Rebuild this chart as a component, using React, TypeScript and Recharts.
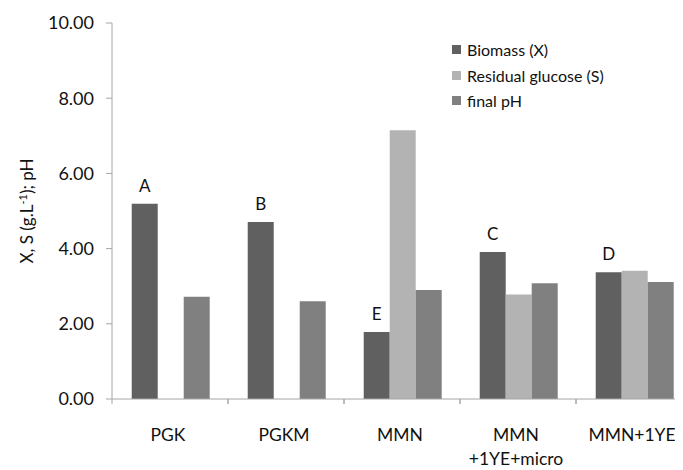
import React from 'react';
import { BarChart, Bar, XAxis, YAxis, LabelList } from 'recharts';

const categories = ['PGK', 'PGKM', 'MMN', 'MMN\n+1YE+micro', 'MMN+1YE'];
const biomass = [5.19, 4.71, 1.78, 3.91, 3.37];
const glucose = [null, null, 7.15, 2.78, 3.41];
const finalPH = [2.72, 2.6, 2.9, 3.08, 3.11];
const letters = ['A', 'B', 'E', 'C', 'D'];
const yTicks = [0, 2, 4, 6, 8, 10];

const series = [
  { key: 'biomass', name: 'Biomass (X)', color: '#606060' },
  { key: 'glucose', name: 'Residual glucose (S)', color: '#b3b3b3' },
  { key: 'ph', name: 'final pH', color: '#808080' },
];

const data = categories.map((c, i) => ({
  name: c,
  biomass: biomass[i],
  glucose: glucose[i],
  ph: finalPH[i],
  letter: letters[i],
}));

const FONT = 'Lato, "Open Sans", sans-serif';
const AXIS = '#a6a6a6';

const W = 698;
const H = 462;
const margin = { top: 15, right: 14, left: 24, bottom: 11 };
const yWidth = 80;
const band = (W - margin.left - margin.right - yWidth) / categories.length;

const XTick = (props: any) => {
  const { x, y, payload } = props;
  const lines = String(payload.value).split('\n');
  const half = band / 2;
  return (
    <g>
      <line x1={x - half} y1={y} x2={x - half} y2={y + 5} stroke={AXIS} />
      <line x1={x + half} y1={y} x2={x + half} y2={y + 5} stroke={AXIS} />
      <text x={x - 2} y={y + 42} textAnchor="middle" fill="#111" fontSize={17.5} fontFamily={FONT}>
        {lines.map((l, i) => (
          <tspan key={i} x={x - 2} dy={i === 0 ? 0 : 24}>
            {l}
          </tspan>
        ))}
      </text>
    </g>
  );
};

const YLabel = (props: any) => {
  const { viewBox } = props;
  const cx = viewBox.x + 1;
  const cy = viewBox.y + viewBox.height / 2;
  return (
    <text
      x={cx}
      y={cy}
      transform={`rotate(-90, ${cx}, ${cy})`}
      textAnchor="middle"
      fill="#111"
      fontSize={17}
      fontFamily={FONT}
    >
      X, S (g.L<tspan fontSize={11} dy={-6}>-1</tspan>
      <tspan dy={6}>); pH</tspan>
    </text>
  );
};

const LegendBox = () => (
  <div
    style={{
      position: 'absolute',
      left: 444,
      top: 29,
      fontFamily: FONT,
      fontSize: 16,
      color: '#111',
      lineHeight: '25.5px',
    }}
  >
    {series.map(s => (
      <div key={s.key} style={{ display: 'flex', alignItems: 'center' }}>
        <span style={{ width: 9, height: 9, background: s.color, marginRight: 6, display: 'inline-block' }} />
        {s.name}
      </div>
    ))}
  </div>
);

export default function App() {
  return (
    <div style={{ width: W, height: H, position: 'relative' }}>
      <style>{'html, body { overflow: hidden; }'}</style>
      <BarChart width={W} height={H} data={data} margin={margin} barCategoryGap="17%" barGap={0}>
        <XAxis
          dataKey="name"
          axisLine={{ stroke: AXIS }}
          tickLine={false}
          tickSize={0}
          tickMargin={0}
          height={60}
          interval={0}
          tick={<XTick />}
        />
        <YAxis
          width={yWidth}
          domain={[0, 10]}
          ticks={yTicks}
          interval={0}
          tickFormatter={(v: number) => v.toFixed(2)}
          axisLine={{ stroke: AXIS }}
          tickLine={{ stroke: AXIS }}
          tickSize={6}
          tickMargin={12}
          tick={{ fill: '#111', fontSize: 18, fontFamily: FONT }}
          label={<YLabel />}
        />
        {series.map(s => (
          <Bar key={s.key} dataKey={s.key} name={s.name} fill={s.color} isAnimationActive={false}>
            {s.key === 'biomass' && (
              <LabelList dataKey="letter" position="top" offset={12} fill="#111" fontSize={17} fontFamily={FONT} />
            )}
          </Bar>
        ))}
      </BarChart>
      <LegendBox />
    </div>
  );
}
